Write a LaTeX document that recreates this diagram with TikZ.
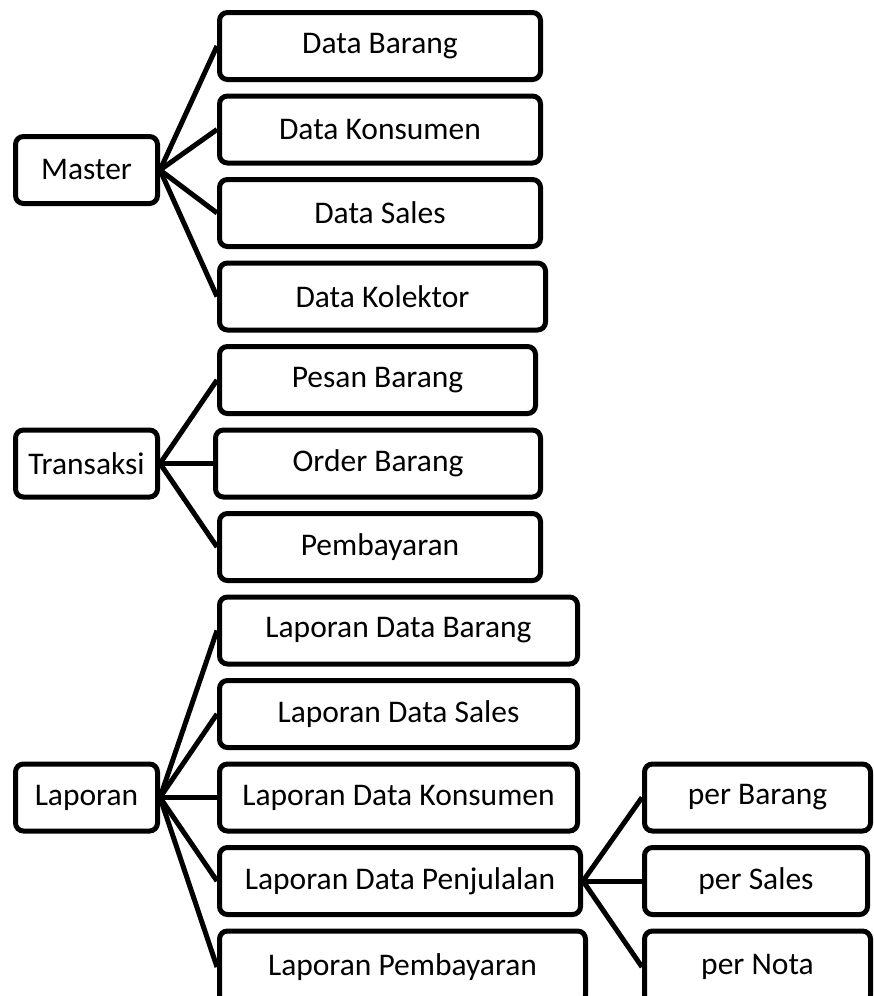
\documentclass[tikz,border=0pt]{standalone}
\usepackage{fontspec}
\setmainfont{Carlito}
\usetikzlibrary{positioning}

\begin{document}
\begin{tikzpicture}[
    x = 1pt, y = 1pt,
    item/.style = {
      rectangle, draw, line width = 5pt, rounded corners = 8pt,
      inner sep = 0pt, minimum height = 67pt,
      font = \fontsize{31.5}{37}\selectfont
    },
    head/.style = {
      item, minimum width = 142pt
    },
    link/.style = {
      line width = 5pt
    },
    ]

    \useasboundingbox (0, 0) rectangle (874, -996);

    % draw master menu
    \node  [item, minimum width = 321pt, anchor = north west]  (m1)  at (217, -10)  {Data Barang};
    \foreach \i/\w/\t [remember = \i as \lasti (initially 1)] in {2/321/Data Konsumen, 3/321/Data Sales, 4/326/Data Kolektor}
    \node  [item, minimum width = \w pt, below = 11.5pt of m\lasti.south west, anchor = north west]  (m\i)  {\t};

    % draw transaction menu
    \node  [item, minimum width = 316pt, below = 11.5pt of m4.south west, anchor = north west]  (t1)  {Pesan Barang};
    \node  [item, minimum width = 325pt, below = 11.5pt of t1.south west, anchor = north west, xshift = -4pt]  (t2)  {Order Barang};
    \node  [item, minimum width = 321pt, below = 11.5pt of t2.south west, anchor = north west, xshift = 4pt]  (t3)  {Pembayaran};

    % draw report menu
    \node  [item, minimum width = 358pt, below = 11.5pt of t3.south west, anchor = north west]  (l1)  {Laporan Data Barang};
    \foreach \i/\w/\t [remember = \i as \lasti (initially 1)] in {2/358/Laporan Data Sales, 3/358/Laporan Data Konsumen, 4/361/Laporan Data Penjulalan}
    \node  [item, minimum width = \w pt, below = 11.5pt of l\lasti.south west, anchor = north west]  (l\i)  {\t};
    \node  [item, minimum width = 366pt, minimum height = 72pt, below = 11.5pt of l4.south west, anchor = north west]  (l5)  {Laporan Pembayaran};

    % draw sales report options
    \node  [item, minimum width = 226pt, right = 62pt of l3]  (p1)  {per Barang};
    \node  [item, minimum width = 223pt, below = 11.5pt of p1.south west, anchor = north west]  (p2)  {per Sales};
    \node  [item, minimum width = 226pt, minimum height = 72pt, below = 11.5pt of p2.south west, anchor = north west]  (p3)  {per Nota};

    % draw main menus
    \node  [head, anchor = west]  (master)  at (13, -170)  {Master};
    \node  [head, left = 53pt of t2]  (transaksi)  {Transaksi};
    \node  [head, left = 57pt of l3]  (laporan)  {Laporan};

    % draw links
    \foreach \i in {1, ..., 4}
    \draw  [link]  (master.east)  --  (m\i.west);
    \foreach \i in {1, ..., 3}
    \draw  [link]  (transaksi.east)  --  (t\i.west);
    \foreach \i in {1, ..., 5}
    \draw  [link]  (laporan.east)  --  (l\i.west);
    \foreach \i in {1, ..., 3}
    \draw  [link]  (l4.east)  --  (p\i.west);

\end{tikzpicture}
\end{document}
